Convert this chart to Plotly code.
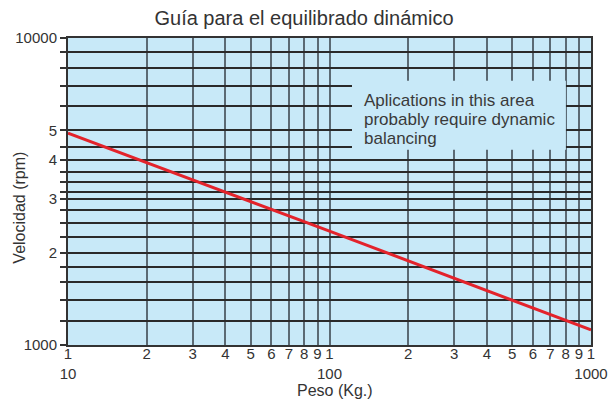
import plotly.graph_objects as go

# Data
peso = [10, 100, 1000]
velocidad = [4900, 2350, 1120]

x_tickvals = [10, 20, 30, 40, 50, 60, 70, 80, 90, 100, 200, 300, 400, 500, 600, 700, 800, 900, 1000]
x_ticktext = ["1<br>10", "2", "3", "4", "5", "6", "7", "8", "9", "1<br>100",
              "2", "3", "4", "5", "6", "7", "8", "9", "1<br>1000"]

y_tickvals = [1000, 1200, 1400, 1600, 1800, 2000, 2250, 2500, 2750, 3000, 3150, 3400,
              3650, 4000, 4400, 5000, 6000, 7000, 8000, 9000, 10000]
y_ticktext = ["1000", "", "", "", "", "2", "", "", "", "3", "", "",
              "", "4", "", "5", "", "", "", "", "10000"]

title_text = "Guía para el equilibrado dinámico"
x_title = "Peso (Kg.)"
y_title = "Velocidad (rpm)"
note_lines = ["Aplications in this area", "probably require dynamic", "balancing"]

FONT = "Liberation Sans, Arial, Helvetica, sans-serif"
BG = "#c8e9f8"

fig = go.Figure()
fig.add_trace(go.Scatter(x=peso, y=velocidad, mode="lines",
                         line=dict(color="#e3232b", width=3), showlegend=False,
                         hoverinfo="skip"))

fig.update_layout(
    width=608, height=401,
    margin=dict(l=68, r=17, t=38, b=56),
    paper_bgcolor="white", plot_bgcolor=BG,
    font=dict(family=FONT, size=15, color="#333333"),
    title=dict(text=title_text, x=0.5, xanchor="center",
               y=0.955, yanchor="middle", font=dict(size=20, color="#333333")),
    showlegend=False,
)

fig.update_xaxes(type="log", range=[1, 3], tickmode="array", tickvals=x_tickvals,
                 ticktext=x_ticktext, showgrid=True, gridcolor="#5b6a74", gridwidth=2,
                 showline=True, linecolor="#333333", linewidth=2, mirror=True,
                 ticks="", tickangle=0, tickfont=dict(size=15), zeroline=False,
                 automargin=False, ticklabeloverflow="allow", ticklabelstandoff=-6)

fig.update_yaxes(type="log", range=[3, 4], tickmode="array", tickvals=y_tickvals,
                 ticktext=y_ticktext, showgrid=True, gridcolor="#2a2a2a", gridwidth=1.5,
                 showline=True, linecolor="#333333", linewidth=2, mirror=True,
                 ticks="outside", ticklen=6, tickcolor="#333333", tickwidth=1.5,
                 tickfont=dict(size=15), zeroline=False, automargin=False,
                 ticklabeloverflow="allow")

# Axis titles
fig.add_annotation(xref="paper", yref="paper", x=0.51, y=-0.147, text=x_title,
                   showarrow=False, xanchor="center", yanchor="middle",
                   font=dict(size=16, color="#333333"))
fig.add_annotation(xref="paper", yref="paper", x=-0.092, y=0.447, text=y_title,
                   showarrow=False, xanchor="center", yanchor="middle", textangle=-90,
                   font=dict(size=16, color="#333333"))

# Box hiding the grid behind the note
fig.add_shape(type="rect", xref="paper", yref="paper", x0=0.543, x1=0.952,
              y0=0.636, y1=0.861, fillcolor=BG, line=dict(width=0), layer="above")

for i, txt in enumerate(note_lines):
    fig.add_annotation(xref="paper", yref="paper", x=0.562, y=0.796 - i * 0.062,
                       xanchor="left", yanchor="middle", text=txt, showarrow=False,
                       font=dict(size=17, color="#3a3a3a"))

fig.write_html("out.html", config={"displayModeBar": False},
               post_script="document.body.style.margin='0';document.body.style.padding='0';")
